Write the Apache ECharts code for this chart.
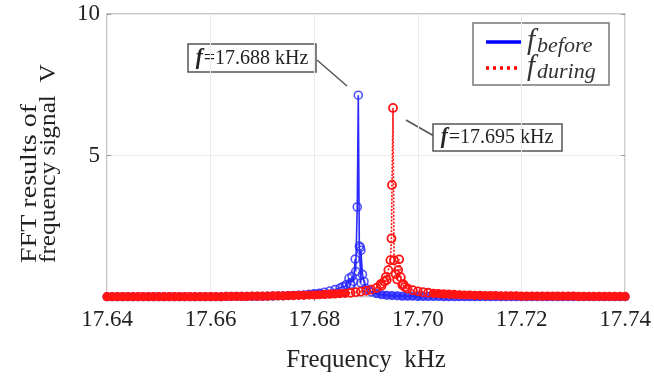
<!DOCTYPE html>
<html>
<head>
<meta charset="utf-8">
<script src="https://cdn.jsdelivr.net/npm/echarts@6/dist/echarts.min.js"></script>
<style>html,body{margin:0;padding:0;background:#fff}#c{width:654px;height:378px}</style>
</head>
<body>
<div id="c"></div>
<script>
// Frequency grid (kHz) shared by both spectra
const freqGrid = [
17.640,17.641,17.642,17.643,17.644,17.645,17.646,17.647,17.648,17.649,
17.650,17.651,17.652,17.653,17.654,17.655,17.656,17.657,17.658,17.659,
17.660,17.661,17.662,17.663,17.664,17.665,17.666,17.667,17.668,17.669,
17.670,17.671,17.672,17.673,17.674,17.675,17.676,17.677,17.678,17.679,
17.680,17.681,17.682,17.683,17.684,17.685,17.686,17.687,17.688,17.689,
17.690,17.691,17.692,17.693,17.694,17.695,17.696,17.697,17.698,17.699,
17.700,17.701,17.702,17.703,17.704,17.705,17.706,17.707,17.708,17.709,
17.710,17.711,17.712,17.713,17.714,17.715,17.716,17.717,17.718,17.719,
17.720,17.721,17.722,17.723,17.724,17.725,17.726,17.727,17.728,17.729,
17.730,17.731,17.732,17.733,17.734,17.735,17.736,17.737,17.738,17.739,
17.740];
// f_before amplitudes on the grid (V)
const beforeGrid = [
0.01,0.01,0.01,0.01,0.01,0.01,0.01,0.01,0.01,0.01,
0.01,0.01,0.01,0.01,0.01,0.01,0.01,0.01,0.01,0.01,
0.01,0.01,0.01,0.02,0.02,0.02,0.02,0.02,0.02,0.02,
0.02,0.03,0.03,0.04,0.04,0.05,0.06,0.07,0.08,0.10,
0.12,0.14,0.17,0.21,0.26,0.32,0.38,0.45,0.90,0.50,
0.30,0.18,0.12,0.08,0.06,0.05,0.04,0.03,0.03,0.03,
0.02,0.02,0.02,0.02,0.02,0.01,0.01,0.01,0.01,0.01,
0.01,0.01,0.01,0.01,0.01,0.01,0.01,0.01,0.01,0.01,
0.01,0.01,0.01,0.01,0.01,0.01,0.01,0.01,0.01,0.01,
0.01,0.01,0.01,0.01,0.01,0.01,0.01,0.01,0.01,0.01,
0.01];
// f_during amplitudes on the grid (V)
const duringGrid = [
0.01,0.01,0.01,0.01,0.01,0.01,0.01,0.01,0.01,0.01,
0.01,0.01,0.01,0.01,0.01,0.01,0.01,0.01,0.01,0.01,
0.01,0.01,0.01,0.02,0.02,0.02,0.02,0.02,0.03,0.03,
0.03,0.03,0.04,0.04,0.04,0.05,0.05,0.06,0.06,0.07,
0.07,0.08,0.09,0.10,0.11,0.12,0.13,0.15,0.17,0.19,
0.22,0.26,0.32,0.40,0.60,3.96,0.62,0.42,0.30,0.24,
0.20,0.17,0.15,0.13,0.12,0.11,0.10,0.09,0.08,0.07,
0.07,0.06,0.06,0.05,0.05,0.05,0.04,0.04,0.04,0.04,
0.03,0.03,0.03,0.03,0.03,0.03,0.03,0.03,0.03,0.03,
0.03,0.02,0.02,0.02,0.02,0.02,0.02,0.02,0.02,0.02,
0.02];
// extra fine-resolution bins around the peaks
const beforePeakFreq = [17.6855,17.6862,17.6867,17.6871,17.6873,17.6876,17.6879,17.6883,17.6885,17.6887,17.6889,17.6890,17.6893,17.6896,17.6905];
const beforePeakVal  = [0.36,0.44,0.66,0.42,0.73,0.55,1.34,3.18,7.13,1.80,1.75,1.65,0.80,0.55,0.25];
const duringPeakFreq = [17.6928,17.6935,17.6938,17.6943,17.6947,17.6949,17.6952,17.6954,17.6957,17.6962,17.6964,17.6967,17.6972,17.6975];
const duringPeakVal  = [0.45,0.55,0.70,0.95,1.30,2.07,6.68,1.30,0.81,0.95,1.33,0.70,0.45,0.35];

const xTicks = ['17.64','17.66','17.68','17.70','17.72','17.74'];
const yTicks = [5, 10];

// low-level bins are drawn as a dense band, the peak bins as hollow circles
function build(gf, gv, pf, pv, baseStyle) {
  const pts = [];
  gf.forEach((f, i) => pts.push({value: [Math.round(f * 10000) / 10, gv[i]],
    itemStyle: gv[i] < 0.15 ? baseStyle : undefined}));
  pf.forEach((f, i) => pts.push({value: [Math.round(f * 10000) / 10, pv[i]]}));
  pts.sort((a, b) => a.value[0] - b.value[0]);
  return pts;
}
const BLUE = 'rgba(40,40,255,0.8)';
const RED = '#ff1414';
const beforeData = build(freqGrid, beforeGrid, beforePeakFreq, beforePeakVal,
  {color: 'rgba(40,40,255,0.8)', borderWidth: 1.2});
const duringData = build(freqGrid, duringGrid, duringPeakFreq, duringPeakVal,
  {color: RED, borderWidth: 1.2});

const SERIF = '"Liberation Serif", "DejaVu Serif", serif';
const chart = echarts.init(document.getElementById('c'), null, {renderer: 'canvas'});
const gridCol = '#ebebeb';
const axisCol = '#b3b3b3';
chart.setOption({
  animation: false,
  backgroundColor: '#fff',
  grid: {left: 107, right: 27, top: 14, bottom: 77, show: true, borderColor: axisCol, borderWidth: 1.5},
  xAxis: [{
    type: 'value', min: 17640, max: 17740, interval: 20,
    axisLine: {show: false},
    axisTick: {inside: true, length: 4, lineStyle: {color: '#999'}},
    splitLine: {show: true, lineStyle: {color: gridCol}},
    axisLabel: {margin: 11, fontFamily: SERIF, fontSize: 23, color: '#222',
      formatter: v => { const s = (v / 1000).toFixed(2); return xTicks.indexOf(s) >= 0 ? s : ''; }},
    name: 'Frequency  kHz', nameLocation: 'middle', nameGap: 51,
    nameTextStyle: {fontFamily: SERIF, fontSize: 25, color: '#222'}
  }, {
    type: 'value', position: 'top', min: 17640, max: 17740, interval: 20,
    axisLine: {show: false}, axisLabel: {show: false}, splitLine: {show: false},
    axisTick: {inside: true, length: 4, lineStyle: {color: '#999'}}
  }],
  yAxis: [{
    type: 'value', min: 0, max: 10, interval: 5,
    axisLine: {show: false},
    axisTick: {inside: true, length: 4, lineStyle: {color: '#999'}},
    splitLine: {show: true, lineStyle: {color: gridCol}},
    axisLabel: {margin: 7, fontFamily: SERIF, fontSize: 23, color: '#222',
      formatter: v => (yTicks.indexOf(v) >= 0 ? String(v) : '')}
  }, {
    type: 'value', position: 'right', min: 0, max: 10, interval: 5,
    axisLine: {show: false}, axisLabel: {show: false}, splitLine: {show: false},
    axisTick: {inside: true, length: 4, lineStyle: {color: '#999'}}
  }],
  series: [{
    name: 'before', type: 'line', data: beforeData,
    symbol: 'circle', symbolSize: 8, showSymbol: true,
    itemStyle: {color: 'rgba(0,0,0,0)', borderColor: BLUE, borderWidth: 1.6},
    lineStyle: {color: '#2a2aff', width: 1.6},
    clip: false
  }, {
    name: 'during', type: 'line', data: duringData,
    symbol: 'circle', symbolSize: 8, showSymbol: true,
    itemStyle: {color: 'rgba(0,0,0,0)', borderColor: RED, borderWidth: 1.8},
    lineStyle: {color: RED, width: 1.6, type: [2, 1.5]},
    clip: false
  }],
  graphic: [
    // y-axis title (two lines, rotated)
    {type: 'text', x: 30, y: 263, rotation: Math.PI / 2, scaleX: 1.22,
     style: {text: 'FFT results of', fontFamily: SERIF, fontSize: 23, fill: '#222', textAlign: 'left', textVerticalAlign: 'middle'}},
    {type: 'text', x: 49, y: 263, rotation: Math.PI / 2, scaleX: 1.1,
     style: {text: 'frequency signal  V', fontFamily: SERIF, fontSize: 23, fill: '#222', textAlign: 'left', textVerticalAlign: 'middle'}},
    // annotation 1
    {type: 'line', shape: {x1: 317, y1: 60, x2: 347, y2: 86}, style: {stroke: '#555', lineWidth: 1.5}},
    {type: 'rect', shape: {x: 188, y: 44, width: 128, height: 28}, style: {fill: '#fff', stroke: '#555', lineWidth: 1.5}},
    {type: 'text', x: 252, y: 58, scaleY: 1.1,
     style: {
      text: '{b|f}{r|=17.688 kHz}', textAlign: 'center', textVerticalAlign: 'middle',
      rich: {b: {fontFamily: SERIF, fontStyle: 'italic', fontWeight: 'bold', fontSize: 21, fill: '#222', padding: [0, 1, 0, 0]},
             r: {fontFamily: SERIF, fontSize: 20, fill: '#222'}}}},
    // annotation 2
    {type: 'line', shape: {x1: 406, y1: 120, x2: 434, y2: 136}, style: {stroke: '#555', lineWidth: 1.5}},
    {type: 'rect', shape: {x: 433, y: 124, width: 129, height: 27}, style: {fill: '#fff', stroke: '#555', lineWidth: 1.5}},
    {type: 'text', x: 497, y: 137.5, scaleY: 1.1,
     style: {
      text: '{b|f}{r|=17.695 kHz}', textAlign: 'center', textVerticalAlign: 'middle',
      rich: {b: {fontFamily: SERIF, fontStyle: 'italic', fontWeight: 'bold', fontSize: 21, fill: '#222', padding: [0, 1, 0, 0]},
             r: {fontFamily: SERIF, fontSize: 20, fill: '#222'}}}},
    // legend
    {type: 'rect', shape: {x: 473, y: 23, width: 136, height: 62}, style: {fill: '#fff', stroke: '#777', lineWidth: 1.5}},
    {type: 'line', shape: {x1: 486, y1: 42, x2: 521, y2: 42}, style: {stroke: '#0000ff', lineWidth: 3.5}},
    {type: 'line', shape: {x1: 486, y1: 68, x2: 521, y2: 68}, style: {stroke: '#ff0000', lineWidth: 3.5, lineDash: [3, 4]}},
    {type: 'text', x: 527, y: 42, style: {
      text: '{f|f}{s|before}', textAlign: 'left', textVerticalAlign: 'middle',
      rich: {f: {fontFamily: SERIF, fontStyle: 'italic', fontSize: 29, fill: '#333', verticalAlign: 'top'},
             s: {fontFamily: SERIF, fontStyle: 'italic', fontSize: 22, fill: '#333', verticalAlign: 'bottom', padding: [9, 0, 0, 2]}}}},
    {type: 'text', x: 527, y: 68, style: {
      text: '{f|f}{s|during}', textAlign: 'left', textVerticalAlign: 'middle',
      rich: {f: {fontFamily: SERIF, fontStyle: 'italic', fontSize: 29, fill: '#333', verticalAlign: 'top'},
             s: {fontFamily: SERIF, fontStyle: 'italic', fontSize: 22, fill: '#333', verticalAlign: 'bottom', padding: [9, 0, 0, 2]}}}}
  ]
});
</script>
</body>
</html>
